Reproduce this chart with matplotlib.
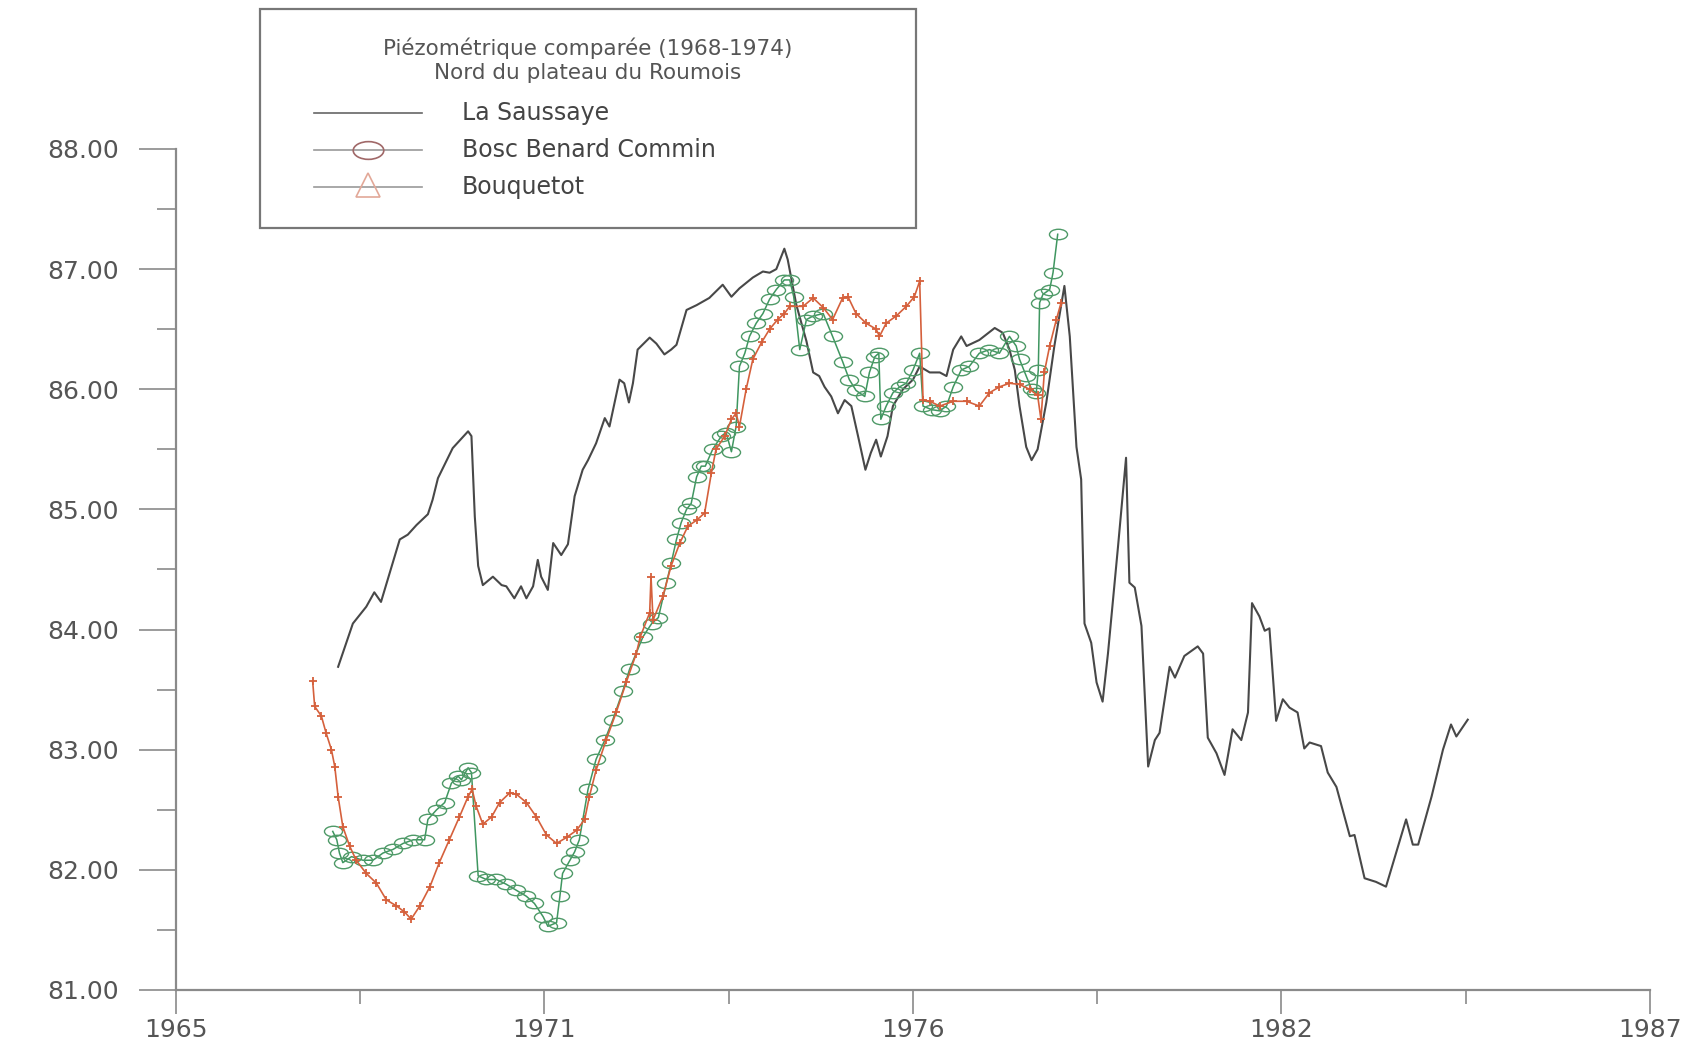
import numpy as np
import matplotlib
matplotlib.use('Agg')
import matplotlib.pyplot as plt
from matplotlib.lines import Line2D
from matplotlib.patches import Rectangle
from matplotlib.path import Path
from matplotlib.transforms import Affine2D
from matplotlib.ticker import FixedLocator

plt.close('all')

# La Saussaye
sauss_year = [1967.42, 1967.64, 1967.84, 1967.96, 1968.06, 1968.19, 1968.34, 1968.46, 1968.59, 1968.76,
              1968.83, 1968.91, 1968.98, 1969.13, 1969.36, 1969.41, 1969.46, 1969.51, 1969.58, 1969.73,
              1969.86, 1969.93, 1970.05, 1970.15, 1970.23, 1970.33, 1970.40, 1970.45, 1970.55, 1970.63,
              1970.75, 1970.85, 1970.95, 1971.07, 1971.15, 1971.27, 1971.40, 1971.47, 1971.55, 1971.62,
              1971.69, 1971.76, 1971.82, 1971.89, 1972.07, 1972.17, 1972.29, 1972.39, 1972.47, 1972.62,
              1972.77, 1972.96, 1973.16, 1973.29, 1973.41, 1973.61, 1973.76, 1973.86, 1973.96, 1974.08,
              1974.13, 1974.26, 1974.41, 1974.51, 1974.60, 1974.68, 1974.78, 1974.88, 1974.98, 1975.08,
              1975.18, 1975.29, 1975.37, 1975.45, 1975.52, 1975.62, 1975.70, 1975.85, 1976.00, 1976.10,
              1976.25, 1976.40, 1976.50, 1976.60, 1976.72, 1976.80, 1976.99, 1977.22, 1977.34, 1977.44,
              1977.52, 1977.59, 1977.69, 1977.77, 1977.86, 1977.99, 1978.11, 1978.26, 1978.34, 1978.44,
              1978.51, 1978.56, 1978.66, 1978.74, 1978.83, 1978.91, 1979.06, 1979.18, 1979.23, 1979.31,
              1979.41, 1979.51, 1979.61, 1979.68, 1979.83, 1979.91, 1980.05, 1980.25, 1980.33, 1980.40,
              1980.53, 1980.65, 1980.77, 1980.90, 1981.00, 1981.06, 1981.17, 1981.25, 1981.32, 1981.42,
              1981.52, 1981.62, 1981.74, 1981.84, 1981.92, 1982.09, 1982.19, 1982.32, 1982.52, 1982.59,
              1982.74, 1982.91, 1983.06, 1983.21, 1983.36, 1983.46, 1983.54, 1983.74, 1983.91, 1984.03,
              1984.11, 1984.28]
sauss_val = [83.69, 84.05, 84.19, 84.31, 84.23, 84.47, 84.75, 84.79, 84.87, 84.96,
             85.08, 85.26, 85.34, 85.51, 85.65, 85.61, 84.94, 84.53, 84.37, 84.44,
             84.37, 84.36, 84.26, 84.36, 84.26, 84.36, 84.58, 84.44, 84.33, 84.72,
             84.62, 84.71, 85.11, 85.33, 85.41, 85.55, 85.76, 85.69, 85.90, 86.08,
             86.05, 85.89, 86.05, 86.33, 86.43, 86.38, 86.29, 86.33, 86.37, 86.66,
             86.70, 86.76, 86.87, 86.77, 86.84, 86.93, 86.98, 86.97, 87.00, 87.17,
             87.08, 86.70, 86.40, 86.14, 86.11, 86.02, 85.94, 85.80, 85.91, 85.86,
             85.61, 85.33, 85.47, 85.58, 85.44, 85.61, 85.86, 86.00, 86.08, 86.19,
             86.14, 86.14, 86.11, 86.33, 86.44, 86.36, 86.41, 86.51, 86.47, 86.33,
             86.16, 85.86, 85.52, 85.41, 85.50, 85.89, 86.36, 86.86, 86.44, 85.52,
             85.25, 84.05, 83.89, 83.56, 83.40, 83.80, 84.69, 85.43, 84.39, 84.35,
             84.03, 82.86, 83.08, 83.14, 83.69, 83.60, 83.78, 83.86, 83.80, 83.10,
             82.97, 82.79, 83.17, 83.08, 83.31, 84.22, 84.11, 83.99, 84.01, 83.24,
             83.42, 83.35, 83.31, 83.01, 83.06, 83.03, 82.81, 82.69, 82.28, 82.29,
             81.93, 81.90, 81.86, 82.14, 82.42, 82.21, 82.21, 82.61, 83.00, 83.21,
             83.11, 83.25]

# Bosc Benard Commin
bosc_year = [1967.34, 1967.40, 1967.44, 1967.49, 1967.62, 1967.79, 1967.94, 1968.09, 1968.24, 1968.39,
             1968.54, 1968.71, 1968.76, 1968.89, 1969.01, 1969.11, 1969.21, 1969.26, 1969.36, 1969.41,
             1969.51, 1969.63, 1969.78, 1969.93, 1970.08, 1970.23, 1970.35, 1970.48, 1970.55, 1970.68,
             1970.73, 1970.77, 1970.88, 1970.95, 1971.02, 1971.15, 1971.27, 1971.40, 1971.52, 1971.67,
             1971.77, 1971.97, 1972.10, 1972.20, 1972.32, 1972.39, 1972.47, 1972.54, 1972.62, 1972.69,
             1972.77, 1972.84, 1972.90, 1973.01, 1973.14, 1973.21, 1973.29, 1973.36, 1973.41, 1973.49,
             1973.56, 1973.66, 1973.76, 1973.86, 1973.96, 1974.08, 1974.16, 1974.22, 1974.31, 1974.41,
             1974.51, 1974.66, 1974.80, 1974.95, 1975.05, 1975.15, 1975.28, 1975.35, 1975.43, 1975.49,
             1975.52, 1975.60, 1975.70, 1975.80, 1975.90, 1976.00, 1976.10, 1976.15, 1976.28, 1976.40,
             1976.50, 1976.60, 1976.72, 1976.84, 1976.99, 1977.14, 1977.29, 1977.44, 1977.54, 1977.59,
             1977.69, 1977.77, 1977.84, 1977.87, 1977.89, 1977.94, 1978.04, 1978.09, 1978.16]
bosc_val = [82.32, 82.25, 82.14, 82.06, 82.11, 82.08, 82.08, 82.14, 82.17, 82.22,
            82.25, 82.25, 82.42, 82.50, 82.56, 82.72, 82.78, 82.75, 82.85, 82.81,
            81.95, 81.92, 81.92, 81.88, 81.83, 81.78, 81.72, 81.61, 81.53, 81.56,
            81.78, 81.97, 82.08, 82.15, 82.25, 82.67, 82.92, 83.08, 83.25, 83.49,
            83.67, 83.94, 84.05, 84.10, 84.39, 84.55, 84.75, 84.89, 85.00, 85.05,
            85.27, 85.36, 85.36, 85.50, 85.61, 85.64, 85.48, 85.69, 86.19, 86.30,
            86.44, 86.55, 86.63, 86.75, 86.83, 86.91, 86.91, 86.77, 86.33, 86.58,
            86.61, 86.63, 86.44, 86.23, 86.08, 85.99, 85.94, 86.14, 86.27, 86.30,
            85.75, 85.86, 85.97, 86.02, 86.05, 86.16, 86.30, 85.86, 85.83, 85.82,
            85.86, 86.02, 86.16, 86.19, 86.30, 86.33, 86.30, 86.44, 86.36, 86.25,
            86.11, 86.00, 85.97, 86.16, 86.72, 86.79, 86.83, 86.97, 87.29]

# Bouquetot
bouq_year = [1967.04, 1967.07, 1967.17, 1967.24, 1967.32, 1967.37, 1967.42, 1967.49, 1967.59, 1967.69,
             1967.84, 1967.99, 1968.14, 1968.29, 1968.41, 1968.51, 1968.64, 1968.79, 1968.93, 1969.08,
             1969.23, 1969.36, 1969.42, 1969.48, 1969.58, 1969.71, 1969.83, 1969.98, 1970.08, 1970.23,
             1970.38, 1970.53, 1970.68, 1970.83, 1970.98, 1971.10, 1971.17, 1971.27, 1971.42, 1971.57,
             1971.72, 1971.87, 1971.93, 1972.07, 1972.09, 1972.12, 1972.27, 1972.39, 1972.52, 1972.64,
             1972.77, 1972.89, 1972.99, 1973.06, 1973.19, 1973.29, 1973.36, 1973.41, 1973.51, 1973.61,
             1973.74, 1973.86, 1973.98, 1974.08, 1974.16, 1974.36, 1974.51, 1974.66, 1974.80, 1974.95,
             1975.03, 1975.15, 1975.30, 1975.45, 1975.50, 1975.60, 1975.75, 1975.90, 1976.02, 1976.10,
             1976.15, 1976.25, 1976.40, 1976.60, 1976.80, 1976.99, 1977.14, 1977.29, 1977.44, 1977.59,
             1977.74, 1977.86, 1977.91, 1977.96, 1978.04, 1978.14, 1978.21]
bouq_val = [83.57, 83.36, 83.28, 83.14, 83.00, 82.86, 82.61, 82.36, 82.20, 82.08,
            81.97, 81.89, 81.75, 81.70, 81.65, 81.59, 81.70, 81.86, 82.06, 82.25,
            82.44, 82.61, 82.67, 82.53, 82.38, 82.44, 82.56, 82.64, 82.63, 82.56,
            82.44, 82.29, 82.22, 82.27, 82.33, 82.42, 82.61, 82.83, 83.08, 83.31,
            83.56, 83.80, 83.94, 84.14, 84.44, 84.08, 84.28, 84.53, 84.72, 84.86,
            84.91, 84.97, 85.30, 85.50, 85.61, 85.75, 85.80, 85.69, 86.00, 86.25,
            86.39, 86.50, 86.58, 86.63, 86.69, 86.69, 86.76, 86.68, 86.58, 86.76,
            86.77, 86.63, 86.55, 86.50, 86.44, 86.55, 86.61, 86.69, 86.77, 86.90,
            85.91, 85.90, 85.86, 85.90, 85.90, 85.86, 85.97, 86.02, 86.05, 86.04,
            86.00, 85.95, 85.75, 86.14, 86.36, 86.58, 86.72]

x_ticks = [1965, 1970.5, 1976, 1981.5, 1987]
x_labels = ['1965', '1971', '1976', '1982', '1987']
y_ticks = [81, 82, 83, 84, 85, 86, 87, 88]
series_labels = ['La Saussaye', 'Bosc Benard Commin', 'Bouquetot']
legend_title = ['Piézométrique comparée (1968-1974)', 'Nord du plateau du Roumois']

black = '#484848'
green = '#3f9660'
red = '#d5603c'
grey_txt = '#555555'

# flat ellipse marker, like the plotter's circles
ellipse = Path.unit_circle().transformed(Affine2D().scale(1.0, 0.58))

fig = plt.figure(figsize=(16.97, 10.41), dpi=100)
ax = fig.add_axes([0.1037, 0.049, 0.8686, 0.8079])

ax.plot(sauss_year, sauss_val, color=black, lw=1.5)
ax.plot(bosc_year, bosc_val, color=green, lw=1.1, marker=ellipse, ms=13, mfc='none',
        mec='#4f9a68', mew=1.0)
ax.plot(bouq_year, bouq_val, color=red, lw=1.2, marker='+', ms=6, mec=red, mew=1.3)

ax.set_xlim(1965, 1987)
ax.set_ylim(81, 88)
ax.xaxis.set_major_locator(FixedLocator(x_ticks))
ax.set_xticklabels(x_labels)
ax.xaxis.set_minor_locator(FixedLocator([1967.75, 1973.25, 1978.75, 1984.25]))
ax.yaxis.set_major_locator(FixedLocator(y_ticks))
ax.set_yticklabels([f'{v:.2f}' for v in y_ticks])
ax.yaxis.set_minor_locator(FixedLocator(np.arange(81.5, 88, 1.0)))

for s in ['top', 'right']:
    ax.spines[s].set_visible(False)
for s in ['left', 'bottom']:
    ax.spines[s].set_color('#8a8a8a')
    ax.spines[s].set_linewidth(1.6)

ax.tick_params(axis='y', which='major', length=27, width=1.2, color='#8a8a8a',
               labelsize=18, labelcolor=grey_txt, pad=14)
ax.tick_params(axis='y', which='minor', length=14, width=1.2, color='#8a8a8a')
ax.tick_params(axis='x', which='major', length=17, width=1.2, color='#8a8a8a',
               labelsize=18, labelcolor=grey_txt, pad=3)
ax.tick_params(axis='x', which='minor', length=10, width=1.2, color='#8a8a8a')

# legend box drawn by hand (the original plotter layout)
tf = fig.transFigure
fig.add_artist(Rectangle((0.1532, 0.7810), 0.3866, 0.2104, transform=tf, fill=False,
                         edgecolor='#777777', lw=1.6))
fig.text(0.3463, 0.9535, legend_title[0], transform=tf, ha='center', va='center',
         fontsize=15.5, color=grey_txt)
fig.text(0.3463, 0.9300, legend_title[1], transform=tf, ha='center', va='center',
         fontsize=15.5, color=grey_txt)

row_y = [0.8918, 0.8555, 0.8202]
hx0, hx1, hxc = 0.1850, 0.2487, 0.2168
fig.add_artist(Line2D([hx0, hx1], [row_y[0]] * 2, transform=tf, color='#666666', lw=1.2))
fig.add_artist(Line2D([hx0, hx1], [row_y[1]] * 2, transform=tf, color='#999999', lw=1.2))
fig.add_artist(Line2D([hxc], [row_y[1]], transform=tf, marker=ellipse, ms=22, mfc='none',
                      mec='#a06868', mew=1.2, lw=0))
fig.add_artist(Line2D([hx0, hx1], [row_y[2]] * 2, transform=tf, color='#999999', lw=1.2))
fig.add_artist(Line2D([hxc], [row_y[2] + 0.002], transform=tf, marker='^', ms=17, mfc='none',
                      mec='#e2a898', mew=1.2, lw=0))
for y, lab in zip(row_y, series_labels):
    fig.text(0.2723, y, lab, transform=tf, ha='left', va='center', fontsize=17, color='#444444')

fig.savefig('out.png', dpi=100)
